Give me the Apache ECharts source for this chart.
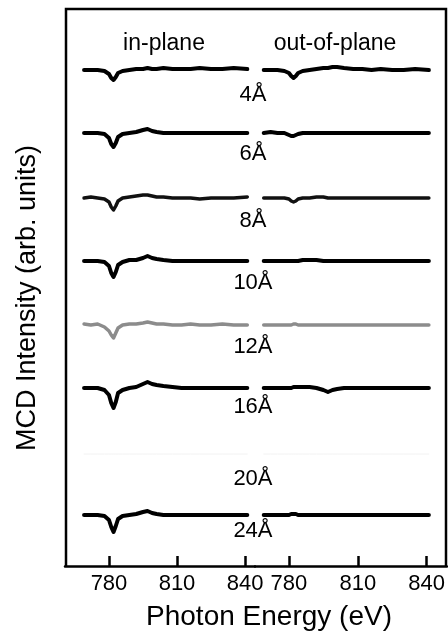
<!DOCTYPE html>
<html lang="en">
<head>
<meta charset="UTF-8">
<title>MCD spectra</title>
<script src="https://cdn.jsdelivr.net/npm/echarts@6/dist/echarts.min.js"></script>
<style>
    body { margin: 0; background: #fff; }
    #main { width: 448px; height: 636px; }
</style>
</head>
<body>
<div id="main"></div>
<script>
    // photon energy grid (eV) shared by all traces
    var energy = [769, 772, 775, 778, 780, 781, 782, 783, 784, 786, 789, 792, 795, 797, 799, 801, 804, 808, 812, 816, 820, 825, 830, 835, 841];

    var thickness = ['4Å', '6Å', '8Å', '10Å', '12Å', '16Å', '20Å', '24Å'];
    // vertical offset of each trace (arb. units)
    var offsets = [445, 382, 317, 254, 190, 127, 61, 0];

    // in-plane MCD (arb. units), one row per thickness
    var inPlane = [
        [0, 0, 0, -1, -4, -8, -10, -7, -3, -1, 0, 1, 1, 2, 1, 1, 2, 1, 1, 1, 2, 1, 1, 2, 1],
        [0, 0, 0, -1, -5, -11, -14, -10, -4, -1, 0, 1, 3, 4, 2, 1, 0, 0, 0, 0, 0, 0, 0, 0, 0],
        [0, 1, 0, -1, -4, -9, -12, -8, -3, 0, 1, 2, 3, 3, 2, 1, 1, 0, 0, 0, -1, 0, 0, 0, 1],
        [0, 0, 0, -1, -5, -12, -16, -11, -4, -1, 1, 1, 3, 5, 3, 2, 1, 0, 0, 0, 0, 0, 0, 0, 0],
        [1, 0, 1, -2, -6, -10, -13, -8, -3, 0, 1, 1, 2, 3, 2, 1, 1, 0, 0, 1, 0, 0, 1, 0, 0],
        [0, 0, 0, -2, -7, -15, -20, -14, -5, -2, 0, 1, 4, 6, 4, 3, 2, 1, 0, 0, 0, 0, 0, 0, 0],
        [0, 0, 0, 0, 0, 0, 0, 0, 0, 0, 0, 0, 0, 0, 0, 0, 0, 0, 0, 0, 0, 0, 0, 0, 0],
        [0, 0, 0, -1, -5, -12, -17, -11, -4, -1, 0, 1, 3, 4, 2, 1, 0, 0, 0, 0, 0, 0, 0, 0, 0]
    ];

    // out-of-plane MCD (arb. units)
    var outPlane = [
        [0, 0, 0, -1, -3, -6, -8, -6, -3, -1, 0, 1, 2, 2, 3, 3, 2, 1, 1, 0, 1, 0, 0, 1, 0],
        [0, 1, 0, 0, -2, -3, -3, -2, -1, 0, 0, 0, 0, 0, 0, 0, 0, 0, 0, 0, 0, 0, 0, 0, 0],
        [0, 0, 0, 0, -1, -3, -4, -3, -1, 0, 0, 1, 1, 0, 0, 0, 0, 0, 0, 0, 0, 0, 0, 0, 0],
        [0, 0, 0, 0, 0, 0, 0, 0, 0, 1, 1, 1, 0, 0, 0, 0, 0, 0, 0, 0, 0, 0, 0, 0, 0],
        [0, 0, 0, 0, 0, 0, 1, 1, 0, 0, 0, 0, 0, 0, 0, 0, 0, 0, 0, 0, 0, 0, 0, 0, 0],
        [0, 0, 0, 0, 0, 0, 1, 1, 1, 1, 1, 0, -2, -4, -2, -1, 0, 0, 0, 0, 0, 0, 0, 0, 0],
        [0, 0, 0, 0, 0, 0, 0, 0, 0, 0, 0, 0, 0, 0, 0, 0, 0, 0, 0, 0, 0, 0, 0, 0, 0],
        [0, 0, 0, 0, 0, 1, 1, 1, 0, 0, 0, 0, 0, 0, 0, 0, 0, 0, 0, 0, 0, 0, 0, 0, 0]
    ];

    var tickValues = [780, 810, 840];

    // styling per trace
    var traceColor = ['#000', '#000', '#111', '#000', '#8c8c8c', '#000', '#f2f2f2', '#000'];
    var traceWidth = [4, 4, 3.5, 4, 3.5, 4, 1, 4];
    var labelDrop = [25, 21, 23, 22, 22, 19, 25, 16];

    var yMin = -51, yMax = 506;
    var font = 'Liberation Sans, Arial, sans-serif';

    function xAxisFor(idx, min, max) {
        return {
            gridIndex: idx,
            type: 'value',
            min: min,
            max: max,
            axisLine: { show: true, onZero: false, lineStyle: { color: '#000', width: 2.5 } },
            splitLine: { show: false },
            axisTick: {
                show: true, inside: true, length: 10,
                customValues: tickValues,
                lineStyle: { color: '#000', width: 2.5 }
            },
            axisLabel: {
                customValues: tickValues,
                margin: 7,
                color: '#000',
                fontFamily: font,
                fontSize: 22
            }
        };
    }

    function yAxisFor(idx) {
        return {
            gridIndex: idx,
            type: 'value',
            min: yMin,
            max: yMax,
            axisLine: { show: false },
            axisTick: { show: false },
            axisLabel: { show: false },
            splitLine: { show: false }
        };
    }

    var series = [];
    thickness.forEach(function (name, i) {
        [inPlane, outPlane].forEach(function (set, g) {
            series.push({
                type: 'line',
                xAxisIndex: g,
                yAxisIndex: g,
                showSymbol: false,
                silent: true,
                data: energy.map(function (e, k) { return [e, offsets[i] + set[i][k]]; }),
                lineStyle: { color: traceColor[i], width: traceWidth[i], cap: 'round', join: 'round' }
            });
        });
    });

    // thickness labels, centred on the gap between the panels
    series.push({
        type: 'scatter',
        xAxisIndex: 0,
        yAxisIndex: 0,
        symbolSize: 0,
        silent: true,
        clip: false,
        itemStyle: { opacity: 1 },
        data: thickness.map(function (name, i) { return { value: [843.5, offsets[i] - labelDrop[i]], name: name }; }),
        label: {
            show: true,
            position: 'inside',
            formatter: '{b}',
            color: '#000',
            opacity: 1,
            fontFamily: font,
            fontSize: 22
        }
    });

    var baseGraphic = [
        {
            type: 'polyline',
            shape: { points: [[66, 566], [66, 9], [446, 9], [446, 566]] },
            style: { fill: null, stroke: '#000', lineWidth: 2.5 },
            silent: true
        },
        {
            type: 'text', x: 164, y: 44,
            style: { text: 'in-plane', fill: '#000', font: '23px ' + font, textAlign: 'center', textVerticalAlign: 'middle' }
        },
        {
            type: 'text', x: 335, y: 44,
            style: { text: 'out-of-plane', fill: '#000', font: '23px ' + font, textAlign: 'center', textVerticalAlign: 'middle' }
        },
        {
            type: 'text', x: 269, y: 617,
            style: { text: 'Photon Energy (eV)', fill: '#000', font: '28px ' + font, textAlign: 'center', textVerticalAlign: 'middle' }
        },
        {
            type: 'text', x: 28, y: 298, rotation: Math.PI / 2,
            style: { text: 'MCD Intensity (arb. units)', fill: '#000', font: '27px ' + font, textAlign: 'center', textVerticalAlign: 'middle' }
        }
    ];

    var option = {
        backgroundColor: '#fff',
        animation: false,
        grid: [
            { left: 65, top: 9, width: 190, height: 557 },
            { left: 255, top: 9, width: 192, height: 557 }
        ],
        xAxis: [xAxisFor(0, 760.6, 844.4), xAxisFor(1, 765.2, 848.9)],
        yAxis: [yAxisFor(0), yAxisFor(1)],
        series: series,
        graphic: baseGraphic
    };

    var myChart = echarts.init(document.getElementById('main'));
    myChart.setOption(option);
</script>
</body>
</html>
